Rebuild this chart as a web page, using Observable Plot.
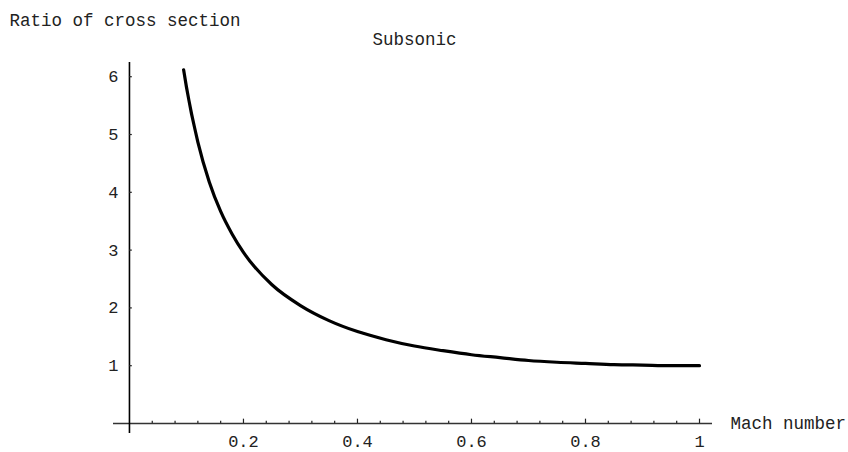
<!DOCTYPE html>
<html>
<head>
<meta charset="utf-8">
<script src="https://cdn.jsdelivr.net/npm/d3@7"></script>
<script src="https://cdn.jsdelivr.net/npm/@observablehq/plot@0.6"></script>
<style>
  html, body { margin: 0; padding: 0; background: #fff; }
  #chart { width: 848px; height: 452px; }
</style>
</head>
<body>
<div id="chart"></div>
<script>
// Mach number (x) and ratio of cross section (y)
const mach  = [0.095, 0.10, 0.12, 0.14, 0.16, 0.18, 0.20, 0.25, 0.30, 0.35, 0.40, 0.45, 0.50, 0.55, 0.60, 0.65, 0.70, 0.75, 0.80, 0.85, 0.90, 0.95, 1.00];
const ratio = [6.12, 5.82, 4.87, 4.18, 3.67, 3.28, 2.96, 2.40, 2.04, 1.78, 1.59, 1.45, 1.34, 1.26, 1.19, 1.14, 1.09, 1.06, 1.04, 1.02, 1.01, 1.00, 1.00];

const xMajor = [0.2, 0.4, 0.6, 0.8, 1];
const xMajorLabels = ["0.2", "0.4", "0.6", "0.8", "1"];
const xMinor = [0.04, 0.08, 0.12, 0.16, 0.24, 0.28, 0.32, 0.36, 0.44, 0.48, 0.52, 0.56, 0.64, 0.68, 0.72, 0.76, 0.84, 0.88, 0.92, 0.96];
const yMajor = [1, 2, 3, 4, 5, 6];
const yMajorLabels = ["1", "2", "3", "4", "5", "6"];

const title = "Subsonic";
const yTitle = "Ratio of cross section";
const xTitle = "Mach number";

const data = mach.map((m, i) => ({m, r: ratio[i]}));
const xTickData = xMajor.map((v, i) => ({v, label: xMajorLabels[i]}));
const yTickData = yMajor.map((v, i) => ({v, label: yMajorLabels[i]}));

const font = "'Liberation Mono', 'Courier New', monospace";
const xDomain = [-0.028, 1.0228];
const yDomain = [-0.173, 6.246];

const chart = Plot.plot({
  width: 848,
  height: 452,
  marginLeft: 113,
  marginRight: 136,
  marginTop: 62,
  marginBottom: 19,
  style: {fontFamily: font, fontSize: "17px", background: "#fff", color: "#000", overflow: "visible"},
  x: {type: "linear", domain: xDomain, axis: null},
  y: {type: "linear", domain: yDomain, axis: null},
  marks: [
    // axes through origin
    Plot.ruleY([0], {y: d => d, x1: xDomain[0], x2: xDomain[1], stroke: "#333", strokeWidth: 1.6}),
    Plot.ruleX([0], {x: d => d, y1: yDomain[0], y2: yDomain[1], stroke: "#000", strokeWidth: 1.6}),
    // x ticks
    Plot.ruleX(xMinor, {x: d => d, y1: 0, y2: 0.04, stroke: "#222", strokeWidth: 1.2}),
    Plot.ruleX(xTickData, {x: "v", y1: 0, y2: 0.075, stroke: "#222", strokeWidth: 1.2}),
    Plot.text(xTickData, {x: "v", y: 0, text: "label", dy: 18, fontSize: 17, fill: "#222", fontFamily: font}),
    // y ticks
    Plot.ruleY(yTickData, {y: "v", x1: 0, x2: 0.005, stroke: "#222", strokeWidth: 1.2}),
    Plot.text(yTickData, {y: "v", x: 0, text: "label", dx: -11, textAnchor: "end", fontSize: 17, fill: "#222", fontFamily: font}),
    // curve
    Plot.line(data, {x: "m", y: "r", curve: "monotone-x", stroke: "#000", strokeWidth: 3.2}),
    // titles
    Plot.text([title], {x: 0.5, y: yDomain[1], dy: -23, text: d => d, fontSize: 17.5, fill: "#222", fontFamily: font}),
    Plot.text([yTitle], {x: xDomain[0], y: yDomain[1], dx: -104, dy: -42, text: d => d, textAnchor: "start", fontSize: 17.5, fill: "#222", fontFamily: font, letterSpacing: 0.5}),
    Plot.text([xTitle], {x: xDomain[1], y: 0, dx: 18, text: d => d, textAnchor: "start", fontSize: 17.5, fill: "#222", fontFamily: font})
  ]
});
document.getElementById("chart").appendChild(chart);
</script>
</body>
</html>
